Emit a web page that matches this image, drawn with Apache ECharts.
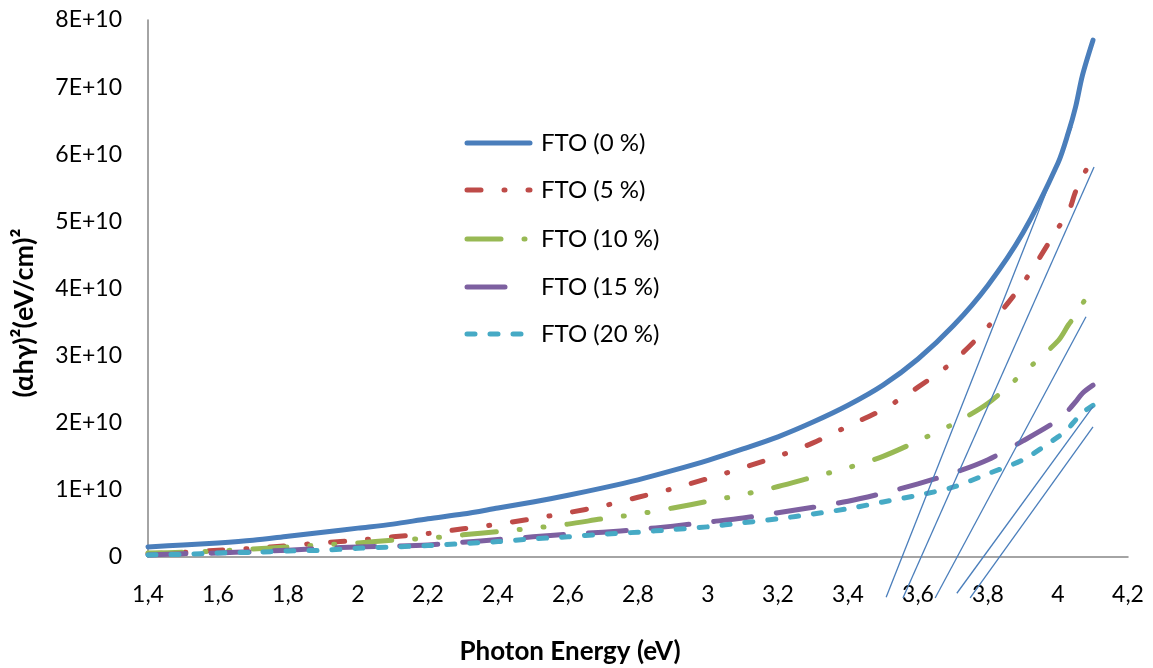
<!DOCTYPE html>
<html>
<head>
<meta charset="utf-8">
<script src="https://cdn.jsdelivr.net/npm/echarts@6/dist/echarts.min.js"></script>
<style>
html,body{margin:0;padding:0;background:#fff;}
#chart{width:1153px;height:668px;}
</style>
</head>
<body>
<div id="chart"></div>
<script>
// ---- data (y values in units of 1E+10) ----
const SCALE = 1e10;
const energy = [1.4,1.5,1.6,1.7,1.8,1.9,2.0,2.1,2.2,2.3,2.4,2.5,2.6,2.7,2.8,2.9,3.0,3.1,3.2,3.3,3.4,3.5,3.6,3.7,3.8,3.9,4.0,4.03,4.05,4.07,4.1];
const seriesNames = ['FTO (0 %)','FTO (5 %)','FTO (10 %)','FTO (15 %)','FTO (20 %)'];
const fto0  = [0.15,0.18,0.21,0.25,0.31,0.37,0.43,0.49,0.57,0.64,0.73,0.82,0.92,1.03,1.15,1.29,1.44,1.61,1.79,2.01,2.26,2.56,2.95,3.44,4.05,4.83,5.87,6.33,6.70,7.18,7.70];
const fto5  = [0.05,0.07,0.10,0.13,0.17,0.21,0.25,0.30,0.35,0.42,0.49,0.57,0.66,0.76,0.89,1.02,1.17,1.33,1.50,1.70,1.95,2.20,2.53,2.91,3.43,4.08,4.90,5.14,5.44,5.66,5.96];
const fto10 = [0.06,0.07,0.09,0.12,0.15,0.18,0.21,0.25,0.28,0.33,0.38,0.43,0.49,0.57,0.64,0.73,0.83,0.93,1.05,1.19,1.33,1.50,1.73,1.98,2.29,2.74,3.22,3.46,3.60,3.78,3.95];
const fto15 = [0.03,0.05,0.06,0.08,0.10,0.13,0.15,0.16,0.18,0.22,0.26,0.30,0.34,0.37,0.41,0.46,0.52,0.58,0.66,0.74,0.83,0.95,1.09,1.25,1.45,1.73,2.04,2.19,2.31,2.44,2.56];
const fto20 = [0.03,0.04,0.06,0.07,0.09,0.10,0.13,0.15,0.17,0.20,0.23,0.27,0.30,0.34,0.37,0.41,0.45,0.51,0.57,0.64,0.72,0.82,0.92,1.04,1.24,1.45,1.79,1.92,2.04,2.15,2.26];
// tangent (extrapolation) lines: start and end points
const tangentX = [[3.509,4.040],[3.557,4.103],[3.649,4.080],[3.711,4.100],[3.749,4.100]];
const tangentY = [[-0.60,6.41],[-0.61,5.81],[-0.61,3.58],[-0.54,2.24],[-0.61,1.94]];
const xTicks = {min:1.4, max:4.2, interval:0.2};
const yTicks = {min:0, max:8, interval:1};
const xTitle = 'Photon Energy (eV)';
const yTitle = '(αhγ)²(eV/cm)²';

// ---- styles ----
const colors = ['#4A7EBB','#BE4B48','#98B954','#7D60A0','#46AAC5'];
const dashes = [null,[14,23,1,23],[34,23,1,23,1,23],[38,25],[8,15]];
const curves = [fto0,fto5,fto10,fto15,fto20];
const FONT = 'Lato, "Open Sans", sans-serif';
const LW = 5;

const series = curves.map((vals,i)=>({
  name: seriesNames[i],
  type:'line',
  data: energy.map((x,k)=>[x, vals[k]*SCALE]),
  showSymbol:false, symbol:'none', smooth:0.3,
  lineStyle:{color:colors[i], width:LW, type:dashes[i]||'solid', cap:'round', join:'round'},
  itemStyle:{color:colors[i]},
  z: 2+i
}));
tangentX.forEach((xs,i)=>{
  series.push({
    type:'line',
    data: xs.map((x,k)=>[x, tangentY[i][k]*SCALE]),
    showSymbol:false, symbol:'none', clip:false, silent:true,
    lineStyle:{color:'#4A7EBB', width:1.3},
    z: 10
  });
});

// legend drawn as graphic elements (line sample + real text)
const legendRows = [143,190,239,287,334];
const graphics = [];
seriesNames.forEach((n,i)=>{
  graphics.push({type:'line', shape:{x1:467,y1:legendRows[i],x2:530,y2:legendRows[i]},
    style:{stroke:colors[i], lineWidth:LW, lineDash:dashes[i]||null, lineCap:'round'}, silent:true});
  graphics.push({type:'text', x:541, y:legendRows[i],
    style:{text:n, fill:'#000', font:'24px '+FONT, verticalAlign:'middle', align:'left'}});
});
graphics.push({type:'text', x:570, y:652,
  style:{text:xTitle, fill:'#000', font:'bold 26px '+FONT, align:'center', verticalAlign:'middle'}});
graphics.push({type:'text', x:24, y:313, rotation:Math.PI/2,
  style:{text:yTitle, fill:'#000', font:'bold 27px '+FONT, align:'center', verticalAlign:'middle'}});

const chart = echarts.init(document.getElementById('chart'), null, {renderer:'canvas'});
chart.setOption({
  animation:false,
  backgroundColor:'#fff',
  grid:{left:148, right:25, top:20, bottom:111, containLabel:false},
  xAxis:{
    type:'value', min:xTicks.min, max:xTicks.max, interval:xTicks.interval,
    axisLine:{show:true, lineStyle:{color:'#868686', width:1.5}},
    axisTick:{show:false},
    splitLine:{show:false},
    axisLabel:{fontFamily:FONT, fontSize:23, color:'#000', margin:26,
      formatter:v=>String(Math.round(v*10)/10).replace('.',',')}
  },
  yAxis:{
    type:'value', min:yTicks.min*SCALE, max:yTicks.max*SCALE, interval:yTicks.interval*SCALE,
    axisLine:{show:true, lineStyle:{color:'#868686', width:1.5}},
    axisTick:{show:false},
    splitLine:{show:false},
    axisLabel:{fontFamily:FONT, fontSize:23, color:'#000', margin:26,
      formatter:v=>v===0?'0':Math.round(v/SCALE)+'E+10'}
  },
  graphic: graphics,
  series: series
});
</script>
</body>
</html>
